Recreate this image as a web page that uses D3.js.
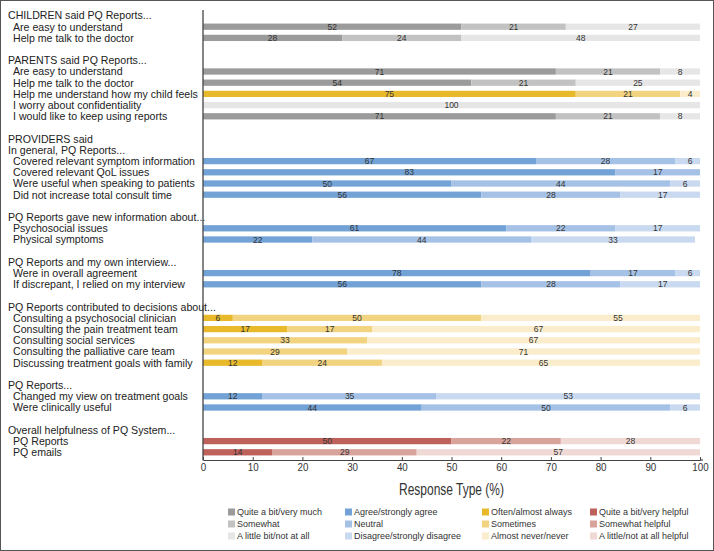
<!DOCTYPE html>
<html>
<head>
<meta charset="utf-8">
<script src="https://cdn.jsdelivr.net/npm/d3@7/dist/d3.min.js"></script>
<style>
  html, body { margin: 0; padding: 0; background: #fff; }
  svg { display: block; }
  .lbl { font-family: "Liberation Sans", Arial, Helvetica, sans-serif; font-size: 10.6px; fill: #222; }
  .val { font-family: "Liberation Sans", Arial, sans-serif; font-size: 8.5px; fill: #333; }
  .leg { font-family: "Liberation Sans", Arial, sans-serif; font-size: 9px; fill: #333; }
  .narrow { font-family: "Liberation Sans Narrow", "Arial Narrow", "Liberation Sans", sans-serif; }
</style>
</head>
<body>
<script>
// ---------------- DATA ----------------
const sectionTitles = [
  ["CHILDREN said PQ Reports..."],
  ["PARENTS said PQ Reports..."],
  ["PROVIDERS said", "In general, PQ Reports..."],
  ["PQ Reports gave new information about..."],
  ["PQ Reports and my own interview..."],
  ["PQ Reports contributed to decisions about..."],
  ["PQ Reports..."],
  ["Overall helpfulness of PQ System..."]
];
const sectionRows = [
  ["Are easy to understand", "Help me talk to the doctor"],
  ["Are easy to understand", "Help me talk to the doctor", "Help me understand how my child feels",
   "I worry about confidentiality", "I would like to keep using reports"],
  ["Covered relevant symptom information", "Covered relevant QoL issues",
   "Were useful when speaking to patients", "Did not increase total consult time"],
  ["Psychosocial issues", "Physical symptoms"],
  ["Were in overall agreement", "If discrepant, I relied on my interview"],
  ["Consulting a psychosocial clinician", "Consulting the pain treatment team",
   "Consulting social services", "Consulting the palliative care team",
   "Discussing treatment goals with family"],
  ["Changed my view on treatment goals", "Were clinically useful"],
  ["PQ Reports", "PQ emails"]
];
const sectionValues = [
  [[52, 21, 27], [28, 24, 48]],
  [[71, 21, 8], [54, 21, 25], [75, 21, 4], [0, 0, 100], [71, 21, 8]],
  [[67, 28, 6], [83, 17, 0], [50, 44, 6], [56, 28, 17]],
  [[61, 22, 17], [22, 44, 33]],
  [[78, 17, 6], [56, 28, 17]],
  [[6, 50, 55], [17, 17, 67], [0, 33, 67], [0, 29, 71], [12, 24, 65]],
  [[12, 35, 53], [44, 50, 6]],
  [[50, 22, 28], [14, 29, 57]]
];
const sectionScales = [
  ["gray", "gray"],
  ["gray", "gray", "yellow", "gray", "gray"],
  ["blue", "blue", "blue", "blue"],
  ["blue", "blue"],
  ["blue", "blue"],
  ["yellow", "yellow", "yellow", "yellow", "yellow"],
  ["blue", "blue"],
  ["red", "red"]
];
const scaleNames = ["gray", "blue", "yellow", "red"];
const legendLabels = [
  ["Quite a bit/very much", "Somewhat", "A little bit/not at all"],
  ["Agree/strongly agree", "Neutral", "Disagree/strongly disagree"],
  ["Often/almost always", "Sometimes", "Almost never/never"],
  ["Quite a bit/very helpful", "Somewhat helpful", "A little/not at all helpful"]
];
const xTicks = [0, 10, 20, 30, 40, 50, 60, 70, 80, 90, 100];
const axisTitle = "Response Type (%)";

// ---------------- STYLE ----------------
const palette = {
  gray:   ["#9b9b9b", "#c2c2c2", "#e6e6e6"],
  blue:   ["#72a2d6", "#a5c1e5", "#c9d9f0"],
  yellow: ["#e9b92c", "#f1d380", "#fbedcb"],
  red:    ["#bf615b", "#d8a39b", "#f0d8d4"]
};

const W = 714, H = 551;
const svg = d3.select("body").append("svg").attr("width", W).attr("height", H);

svg.append("rect").attr("x", 0.5).attr("y", 0.5).attr("width", W - 1).attr("height", H - 1)
  .attr("fill", "#fff").attr("stroke", "#555").attr("stroke-width", 1);

// build line list
const lines = [];
sectionTitles.forEach((titles, si) => {
  if (si > 0) lines.push({ type: "blank" });
  titles.forEach(t => lines.push({ type: "header", label: t }));
  sectionRows[si].forEach((r, ri) => lines.push({
    type: "row", label: r, values: sectionValues[si][ri], scale: sectionScales[si][ri]
  }));
});

const x = d3.scaleLinear().domain([0, 100]).range([203, 700]);
const y = d3.scaleBand().domain(d3.range(lines.length)).range([9.9, 9.9 + lines.length * 11.2]).paddingInner(0.44).paddingOuter(0.22);

svg.append("clipPath").attr("id", "plotclip").append("rect")
  .attr("x", x(0)).attr("y", 0).attr("width", x(100) - x(0)).attr("height", H);

// labels
lines.forEach((l, i) => {
  if (l.type === "blank") return;
  svg.append("text").attr("class", "lbl")
    .attr("x", l.type === "header" ? 8 : 13)
    .attr("y", y(i) + y.bandwidth() / 2 + 3.8)
    .text(l.label);
});

// bars
const stackGen = d3.stack().keys([0, 1, 2]).value((d, k) => d.values[k]);
const rowsIdx = lines.map((l, i) => ({ ...l, i })).filter(l => l.type === "row");
const stacked = stackGen(rowsIdx);
const gBars = svg.append("g").attr("clip-path", "url(#plotclip)");
stacked.forEach((layer, k) => {
  gBars.selectAll(null).data(layer.filter(d => d.data.values[k] > 0)).enter().append("rect")
    .attr("x", d => x(d[0]))
    .attr("y", d => y(d.data.i))
    .attr("width", d => x(d[1]) - x(d[0]))
    .attr("height", y.bandwidth())
    .attr("fill", d => palette[d.data.scale][k]);
});
stacked.forEach((layer, k) => {
  svg.selectAll(null).data(layer.filter(d => d.data.values[k] > 0)).enter().append("text")
    .attr("class", "val")
    .attr("text-anchor", "middle")
    .attr("x", d => x((d[0] + d[1]) / 2))
    .attr("y", d => y(d.data.i) + y.bandwidth() / 2 + 3)
    .text(d => d.data.values[k]);
});

// axes
const axisY = 460;
svg.append("line").attr("x1", x(0)).attr("x2", x(0)).attr("y1", 10).attr("y2", axisY + 0.5)
  .attr("stroke", "#444").attr("stroke-width", 1.3);
const gx = svg.append("g").attr("transform", `translate(0,${axisY})`)
  .call(d3.axisBottom(x).tickValues(xTicks).tickSizeInner(-3).tickSizeOuter(0).tickPadding(3));
gx.select(".domain").attr("stroke", "#444").attr("stroke-width", 1.2);
gx.selectAll(".tick line").attr("stroke", "#444");
gx.selectAll(".tick text").attr("class", "narrow").attr("font-size", "11.5px").attr("fill", "#333")
  .attr("transform", "scale(0.85,1)");
gx.append("line").attr("x1", x(100)).attr("x2", x(100) + 3).attr("stroke", "#444").attr("stroke-width", 1.2);

svg.append("text").attr("class", "narrow")
  .attr("x", (x(0) + x(100)) / 2).attr("y", 494.5)
  .attr("text-anchor", "middle").attr("font-size", "16px").attr("fill", "#333")
  .attr("textLength", 105).attr("lengthAdjust", "spacingAndGlyphs")
  .text(axisTitle);

// legend
const legX = [228, 345, 482, 590];
const legY = [512, 524, 536];
scaleNames.forEach((s, c) => {
  legendLabels[c].forEach((t, r) => {
    svg.append("rect").attr("x", legX[c]).attr("y", legY[r] - 3.5).attr("width", 7).attr("height", 7)
      .attr("fill", palette[s][r]);
    svg.append("text").attr("class", "leg").attr("x", legX[c] + 9).attr("y", legY[r] + 3.2).text(t);
  });
});
</script>
</body>
</html>
